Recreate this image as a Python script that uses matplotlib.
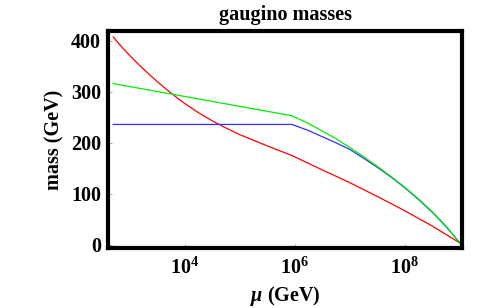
import numpy as np
import matplotlib
matplotlib.use("Agg")
import matplotlib.pyplot as plt

# ---- data (log10 of mu in GeV, masses in GeV) ----
red_logmu = [2.7, 2.8, 2.9, 3.0, 3.125, 3.25, 3.375, 3.5, 3.625, 3.75, 3.875, 4.0,
             4.25, 4.5, 4.75, 5.0, 5.25, 5.5, 5.95, 6.5, 7.0, 7.5, 8.0, 8.5, 9.0]
red_mass = [407.5, 394.5, 382.5, 371, 357.5, 344.5, 332, 320, 308.5, 297.5, 287, 277,
            259, 243, 229, 216, 205, 194, 175, 147, 122, 95, 67, 37, 4]

green_logmu = [2.7, 5.95, 6.25, 6.5, 6.75, 7.0, 7.25, 7.5, 7.75, 8.0, 8.25, 8.5, 8.75, 9.0]
green_mass = [316, 253, 238, 223, 208, 191, 173, 154, 134, 113, 90, 65, 37, 4]

blue_logmu = [2.7, 5.95, 6.25, 6.5, 6.75, 7.0, 7.25, 7.5, 7.75, 8.0, 8.25, 8.5, 8.75, 9.0]
blue_mass = [236, 236, 224, 212, 200, 187, 170, 152, 133, 112, 89, 64, 36, 4]

xtick_exps = [4, 6, 8]
ytick_vals = [0, 100, 200, 300, 400]

plt.rcParams['font.family'] = ['Liberation Serif', 'DejaVu Serif']
plt.rcParams['font.weight'] = 'bold'
plt.rcParams['mathtext.fontset'] = 'custom'
plt.rcParams['mathtext.rm'] = 'Liberation Serif:bold'
plt.rcParams['mathtext.bf'] = 'Liberation Serif:bold'
plt.rcParams['mathtext.it'] = 'Liberation Serif:italic:bold'

fig = plt.figure(figsize=(4.98, 3.08), dpi=100)
ax = fig.add_axes([108/498, 1-248/308, (462-108)/498, (248-31)/308])

ax.plot(10.0**np.array(red_logmu), red_mass, color='#ff0000', lw=0.9)
ax.plot(10.0**np.array(blue_logmu), blue_mass, color='#3030ff', lw=0.9)
ax.plot(10.0**np.array(green_logmu), green_mass, color='#00ee00', lw=0.9)

ax.set_xscale('log')
ax.set_xlim(10**2.605, 10**9.04)
ax.set_ylim(-6, 419)

ax.set_xticks([10.0**e for e in xtick_exps])
ax.set_xticklabels([r'$\mathrm{10^{%d}}$' % e for e in xtick_exps])
ax.xaxis.set_minor_locator(matplotlib.ticker.NullLocator())
ax.set_yticks(ytick_vals)
ax.set_yticklabels([str(v) for v in ytick_vals])

ax.tick_params(direction='in', length=3, width=0.6, color='#999999',
               labelsize=14.5, pad=7)
ax.tick_params(axis='y', pad=5)
for s in ax.spines.values():
    s.set_linewidth(3)
    s.set_color('black')

ax.set_title('gaugino masses', fontsize=14.5, fontweight='bold', pad=8)
ax.set_xlabel(r'$\mu$ (GeV)', fontsize=14.5, fontweight='bold', labelpad=4)
ax.set_ylabel('mass (GeV)', fontsize=14.5, fontweight='bold', labelpad=5)

fig.savefig('out.png', dpi=100)
